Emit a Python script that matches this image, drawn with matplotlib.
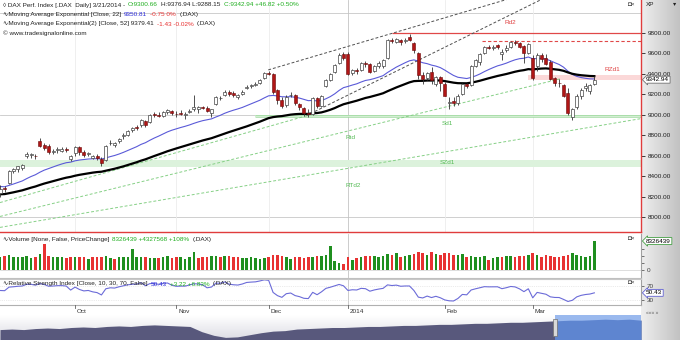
import numpy as np
import matplotlib
matplotlib.use('Agg')
import matplotlib.pyplot as plt
from matplotlib.colors import LinearSegmentedColormap
from matplotlib.patches import Rectangle

plt.rcParams['font.family'] = ['Liberation Sans', 'DejaVu Sans']

# DAX daily bars, 6 Sep 2013 .. 21 Mar 2014
opens = [
    8230, 8280, 8330, 8450, 8470, 8480, 8600, 8610, 8600, 8740, 8700, 8690, 8640, 8660, 8650, 8670, 8570,
    8630, 8680, 8640, 8615, 8575, 8600, 8570, 8560, 8720, 8700, 8740, 8790, 8800, 8850, 8880, 8900, 8940, 8930, 9010, 9000, 8990, 9030, 9040,
    9010, 9020, 9000, 9030, 9060, 9060, 9080, 9070, 9020, 9110, 9160, 9190, 9220, 9210, 9170, 9200, 9260, 9280, 9290, 9310, 9360,
    9410, 9400, 9240, 9140, 9100, 9190, 9190, 9110, 9070, 9020, 9010, 9160, 9090, 9280, 9340, 9420, 9510, 9590,
    9598, 9410, 9440, 9440, 9510, 9500, 9430, 9480, 9480, 9560, 9730, 9710, 9730, 9720, 9760, 9700, 9600, 9390, 9360, 9420, 9300, 9370,
    9300, 9120, 9130, 9120, 9200, 9300, 9290, 9480, 9520, 9600, 9660, 9650, 9680, 9590, 9630, 9660, 9710, 9700, 9670, 9600,
    9560, 9480, 9580, 9560, 9520, 9360, 9310, 9290, 9210, 8980, 9080, 9180, 9260, 9230, 9300.66]
highs = [
    8310, 8300, 8460, 8480, 8500, 8520, 8640, 8630, 8620, 8770, 8720, 8710, 8670, 8680, 8680, 8680, 8610,
    8690, 8690, 8660, 8640, 8610, 8620, 8585, 8700, 8750, 8735, 8775, 8820, 8850, 8885, 8900, 8960, 8950, 9010, 9030, 9030, 9040, 9060, 9050,
    9040, 9050, 9030, 9060, 9195, 9090, 9090, 9090, 9060, 9180, 9180, 9240, 9240, 9230, 9200, 9240, 9290, 9300, 9320, 9350, 9420,
    9430, 9410, 9250, 9170, 9190, 9220, 9200, 9120, 9080, 9060, 9170, 9170, 9190, 9350, 9410, 9500, 9600, 9610,
    9610, 9450, 9460, 9520, 9530, 9510, 9490, 9530, 9550, 9740, 9750, 9750, 9740, 9750, 9790, 9710, 9610, 9420, 9420, 9470, 9380, 9380,
    9320, 9170, 9170, 9200, 9310, 9310, 9490, 9550, 9600, 9670, 9680, 9680, 9690, 9640, 9680, 9720, 9730, 9710, 9680, 9700,
    9580, 9600, 9600, 9590, 9540, 9370, 9350, 9300, 9260, 9070, 9200, 9260, 9310, 9300, 9376.94]
lows = [
    8200, 8240, 8320, 8430, 8440, 8460, 8580, 8580, 8570, 8680, 8660, 8620, 8620, 8630, 8640, 8640, 8550,
    8600, 8610, 8590, 8600, 8570, 8560, 8500, 8550, 8700, 8680, 8720, 8760, 8790, 8830, 8850, 8880, 8880, 8920, 8980, 8980, 8980, 9010, 9000,
    8980, 9000, 8960, 9020, 9040, 9020, 9060, 9030, 8980, 9100, 9140, 9180, 9180, 9170, 9150, 9190, 9250, 9260, 9280, 9300, 9350,
    9390, 9200, 9110, 9070, 9080, 9170, 9100, 9050, 8990, 8980, 9000, 9070, 9080, 9270, 9330, 9410, 9500, 9540,
    9390, 9390, 9400, 9430, 9470, 9410, 9420, 9460, 9460, 9550, 9700, 9700, 9680, 9700, 9720, 9600, 9350, 9300, 9340, 9300, 9280, 9230,
    9180, 9060, 9090, 9100, 9190, 9260, 9280, 9470, 9490, 9590, 9640, 9630, 9640, 9540, 9610, 9650, 9680, 9650, 9510, 9590,
    9340, 9430, 9520, 9490, 9340, 9280, 9270, 9170, 9000, 8950, 9060, 9150, 9230, 9200, 9288.15]
closes = [
    8276, 8270, 8446, 8467, 8495, 8510, 8613, 8614, 8596, 8694, 8675, 8640, 8650, 8665, 8666, 8660, 8594,
    8685, 8640, 8610, 8622, 8595, 8580, 8530, 8690, 8725, 8720, 8765, 8805, 8846, 8870, 8875, 8947, 8900, 9000, 9000, 8990, 9030, 9050, 9020,
    9005, 9010, 9010, 9040, 9080, 9078, 9070, 9040, 9055, 9170, 9168, 9225, 9200, 9193, 9190, 9220, 9275, 9290, 9300, 9340, 9405,
    9400, 9225, 9140, 9084, 9172, 9190, 9114, 9078, 9017, 9006, 9164, 9085, 9181, 9336, 9400, 9488, 9589, 9552,
    9400, 9435, 9428, 9507, 9497, 9422, 9473, 9510, 9540, 9734, 9717, 9742, 9716, 9730, 9730, 9631, 9392, 9349, 9406, 9336, 9373, 9306,
    9186, 9127, 9116, 9179, 9301, 9285, 9478, 9540, 9596, 9662, 9657, 9659, 9660, 9618, 9656, 9708, 9699, 9661, 9600, 9692,
    9358, 9589, 9542, 9498, 9350, 9312, 9307, 9188, 9017, 9056, 9180, 9242, 9277, 9296.12, 9342.94]
# volume in millions of shares
volumes = [
    3.6, 3.9, 4.2, 3.6, 3.8, 3.7, 3.9, 3.5, 3.8, 4.6, 7.5, 3.9, 3.8, 3.6, 3.7, 3.5, 3.8,
    3.6, 3.7, 3.6, 3.3, 3.6, 3.7, 3.8, 4.0, 3.4, 3.2, 3.7, 3.8, 3.6, 6.0, 3.8, 3.6, 3.6, 3.5, 3.4, 3.5, 3.8, 4.1, 3.5,
    3.6, 3.8, 3.3, 3.6, 5.2, 3.4, 3.6, 3.8, 4.0, 3.9, 3.7, 3.9, 4.1, 3.7, 3.6, 3.5, 3.5, 3.6, 3.5, 3.3, 3.5,
    3.6, 4.4, 4.2, 4.0, 3.6, 3.3, 3.7, 3.8, 3.5, 3.7, 3.8, 3.9, 4.1, 4.4, 6.8, 2.6, 2.0, 1.7,
    3.6, 3.0, 3.4, 3.6, 3.9, 4.0, 4.1, 3.8, 4.0, 4.6, 4.3, 5.0, 3.6, 3.9, 4.2, 4.6, 5.2, 5.0, 4.4, 5.1, 4.5, 4.3,
    4.9, 4.8, 4.4, 4.2, 4.6, 3.6, 3.9, 3.8, 3.7, 3.9, 3.0, 3.5, 3.6, 3.8, 4.0, 3.9, 3.7, 4.1, 3.9, 4.3,
    4.9, 4.4, 3.8, 4.2, 4.1, 3.7, 3.6, 4.1, 4.3, 4.8, 4.2, 3.9, 3.8, 3.998871, 8.326439]

month_labels = ['Oct', 'Nov', 'Dec', '2014', 'Feb', 'Mar']
month_first_bar = [17, 40, 61, 79, 101, 121]

ema_fast_start, ema_slow_start = 8300, 8220
rsi_gain_start, rsi_loss_start = 40.0, 30.0

# drawn levels and trend lines (bar index, price)
rd2_level, rd2_from = 9800, 89
rd_dash_level, rd_dash_from = 9720, 109.5
rzd1_zone, rzd1_from = (9340, 9390), 120
sd1_zone, sd1_from = (8975, 9000), 58
szd1_zone = (8490, 8560)
dark_lines = [[(60.9, 9439), (118, 10165)], [(69.5, 8990), (124, 10150)]]
green_lines = [[(-0.05, 8141), (70.4, 9000)], [(-0.05, 8005), (127.2, 9351)], [(-0.05, 7898), (145.4, 8961)]]

# overview strip at the bottom (relative level)
nav_values = [10, 10.5, 10, 11, 11.5, 11, 12, 12.5, 12, 13, 13.5, 13, 14, 14.5, 14, 13.5, 13, 8, 4.5, 2.5, 3,
              5, 7, 8.5, 9, 10.5, 11, 11.5, 12, 12, 12.5, 13, 13, 13.5, 14, 14, 14.5, 15, 15, 15.5, 16, 16, 16.5,
              17, 17, 17.5, 18, 18.5, 19, 19, 19.5, 20, 19.5, 20, 19]

W, H = 680, 340
fig = plt.figure(figsize=(6.8, 3.4), dpi=100)
fig.patch.set_facecolor('white')
FS = 4.6


def panel(x0, y0, x1, y1):
    return fig.add_axes([x0 / W, 1 - y1 / H, (x1 - x0) / W, (y1 - y0) / H])


# scale column on the right
side = panel(641, 0, 680, 340)
side.imshow(np.linspace(0, 1, 64)[None, :], aspect='auto', extent=[0, 1, 0, 1],
            cmap=LinearSegmentedColormap.from_list('g', ['#eeeeee', '#c2c2c2']))
side.axis('off')

n = len(closes)
x = np.arange(n)
XL = (-0.05, 145.6)

# ---------- price panel ----------
ax = panel(0, 0, 641, 232)
ax.set_xlim(*XL)
ax.set_ylim(7853, 10123)
for lv in (8000, 9000, 10000):
    ax.axhline(lv, color='#c8c8c8', lw=0.6, zorder=0)
for i in month_first_bar:
    ax.axvline(i, color='#c4c4c4' if i == 79 else '#ededed', lw=0.6, zorder=0)

ax.axhspan(*szd1_zone, color='#dcf2dc', lw=0, zorder=0.5)
ax.fill_between([sd1_from, XL[1]], *sd1_zone, color='#d2eed2', lw=0, zorder=0.5)
ax.hlines(sd1_zone, sd1_from, XL[1], color='#9bd89b', lw=0.5, zorder=0.6)
ax.fill_between([rzd1_from, XL[1]], *rzd1_zone, color='#fbd8d8', lw=0, zorder=0.5)
ax.hlines(rd2_level, rd2_from, XL[1], color='#e04848', lw=0.9, zorder=1)
ax.hlines(rd_dash_level, rd_dash_from, XL[1], color='#e04848', lw=0.8, linestyles=(0, (3, 2)), zorder=1)

for (x0, y0), (x1, y1) in dark_lines:
    ax.plot([x0, x1], [y0, y1], color='#505050', lw=0.7, dashes=(3, 2), zorder=1)
for (x0, y0), (x1, y1) in green_lines:
    ax.plot([x0, x1], [y0, y1], color='#86d086', lw=0.7, dashes=(3, 2), zorder=1)


def ema(vals, span, start):
    a = 2 / (span + 1)
    out, e = [], start
    for v in vals:
        e += a * (v - e)
        out.append(e)
    return out


ax.plot(x, ema(closes, 22, ema_fast_start), color='#5a5ad8', lw=0.8, zorder=2)
ax.plot(x, ema(closes, 52, ema_slow_start), color='black', lw=1.6, zorder=2)

o = np.array(opens); c = np.array(closes)
up = c >= o
ax.vlines(x, lows, highs, color='#333333', lw=0.6, zorder=3)
body_h = np.maximum(np.abs(c - o), 4)
body_b = np.minimum(o, c)
ax.bar(x[up], body_h[up], bottom=body_b[up], width=0.68, color='white', edgecolor='#454545', lw=0.5, zorder=4)
ax.bar(x[~up], body_h[~up], bottom=body_b[~up], width=0.68, color='#b01616', edgecolor='#6a0808', lw=0.4, zorder=4)

red_t, green_t = '#e04040', '#55bb55'
ax.text(115.9, 9907, 'Rd2', color=red_t, fontsize=FS, ha='center', va='center')
ax.text(139, 9439, 'RZd1', color=red_t, fontsize=FS, ha='center', va='center')
ax.text(101.5, 8912, 'Sd1', color=green_t, fontsize=FS, ha='center', va='center')
ax.text(101.5, 8532, 'SZd1', color=green_t, fontsize=FS, ha='center', va='center')
ax.text(79.7, 8776, 'Rtd', color=green_t, fontsize=FS, ha='center', va='center')
ax.text(80.2, 8307, 'RTd2', color=green_t, fontsize=FS, ha='center', va='center')

ax.yaxis.tick_right()
ax.set_yticks(np.arange(8000, 9801, 200))
ax.set_yticklabels([f'{v:.2f}' for v in np.arange(8000, 9801, 200)])
ax.tick_params(axis='y', length=3, width=0.6, pad=1.5, labelsize=FS, colors='#202020')
ax.tick_params(axis='x', bottom=False, labelbottom=False)
for s in ('left', 'top'):
    ax.spines[s].set_visible(False)
for s in ('right', 'bottom'):
    ax.spines[s].set_color('#e03c3c')
    ax.spines[s].set_linewidth(1.0)
ax.text(1.008, closes[-1], f'{closes[-1]:.2f}', transform=ax.get_yaxis_transform(), fontsize=FS,
        va='center', ha='left', clip_on=False, zorder=6,
        bbox=dict(boxstyle='larrow,pad=0.15', fc='white', ec='#707070', lw=0.6))

# ---------- volume panel ----------
axv = panel(0, 234, 641, 278)
axv.set_xlim(*XL)
axv.set_ylim(-2.3, 10.34)
vcol = ['#1f8f1f' if i == 0 or closes[i] >= closes[i - 1] else '#e83232' for i in range(n)]
axv.bar(x, volumes, width=0.58, color=vcol, lw=0)
axv.axvline(79, color='#c4c4c4', lw=0.6, zorder=0)
axv.axhline(0, color='#d0d0d0', lw=0.5, zorder=0)
axv.yaxis.tick_right()
axv.set_yticks([0, 2, 4, 6])
axv.set_yticklabels(['0', '', '', ''])
axv.tick_params(axis='y', length=2.5, width=0.5, pad=1.5, labelsize=FS, colors='#404040')
axv.tick_params(axis='x', bottom=False, labelbottom=False)
for s in ('left', 'top'):
    axv.spines[s].set_visible(False)
axv.spines['right'].set_color('#a0a0a0')
axv.spines['bottom'].set_color('#c0c0c0')
axv.text(1.008, volumes[-1], f'{volumes[-1] * 1e6:.0f}', transform=axv.get_yaxis_transform(), fontsize=FS,
         va='center', ha='left', clip_on=False,
         bbox=dict(boxstyle='larrow,pad=0.15', fc='white', ec='#46a046', lw=0.6))

# ---------- RSI panel ----------
g, l = rsi_gain_start, rsi_loss_start
rsi = [100 * g / (g + l)]
for i in range(1, n):
    d = closes[i] - closes[i - 1]
    g = (g * 9 + max(d, 0)) / 10
    l = (l * 9 + max(-d, 0)) / 10
    rsi.append(100 * g / (g + l))

axr = panel(0, 279, 641, 305)
axr.set_xlim(*XL)
axr.set_ylim(15.7, 90)
axr.axhline(70, color='#d8d8d8', lw=0.5, ls=':')
axr.axhline(30, color='#d8d8d8', lw=0.5, ls=':')
axr.axvline(79, color='#c4c4c4', lw=0.6, zorder=0)
axr.plot(x, rsi, color='#6b6bd8', lw=0.8)
axr.yaxis.tick_right()
axr.set_yticks([30, 70])
axr.tick_params(axis='y', length=2.5, width=0.5, pad=1.5, labelsize=FS, colors='#404040')
axr.tick_params(axis='x', bottom=False, labelbottom=False)
axr.spines['left'].set_visible(False)
axr.spines['right'].set_color('#a0a0a0')
axr.spines['bottom'].set_color('#b0b0b0')
axr.spines['top'].set_color('#c8c8c8')
axr.text(1.008, 50.43, '50.43', transform=axr.get_yaxis_transform(), fontsize=FS,
         va='center', ha='left', clip_on=False,
         bbox=dict(boxstyle='larrow,pad=0.15', fc='white', ec='#6060d0', lw=0.6))

# ---------- date strip ----------
axd = panel(0, 305, 641, 315)
axd.set_xlim(*XL)
axd.set_ylim(0, 1)
axd.axis('off')
for i, lab in zip(month_first_bar, month_labels):
    axd.plot([i, i], [0.72, 1], color='#606060', lw=0.6)
    axd.text(i + 0.5, 0.35, lab, fontsize=FS, color='#303030', ha='left', va='center')

# ---------- overview strip ----------
axn = panel(0, 315, 641, 340)
axn.set_xlim(0, 1)
axn.set_ylim(0, 24)
axn.imshow(np.linspace(0, 1, 32)[:, None], aspect='auto', extent=[0, 1, 0, 24], zorder=0,
           cmap=LinearSegmentedColormap.from_list('n', ['#ffffff', '#dcdce4']))
xs = np.linspace(0, 1, len(nav_values))
axn.fill_between(xs, 0, nav_values, color='#58587c', lw=0, zorder=1)
hl = 555 / 641
axn.axvspan(hl, 1, color='#9ab9ee', lw=0, zorder=2)
clip = Rectangle((hl, 0), 1 - hl, 24, transform=axn.transData)
area = axn.fill_between(xs, 0, nav_values, color='#5e85d0', lw=0, zorder=3)
area.set_clip_path(clip)
axn.add_patch(Rectangle((hl - 0.003, 4), 0.006, 16, fc='#d8d8d8', ec='#707070', lw=0.5, zorder=4))
axn.axis('off')


# ---------- header texts: coloured pieces chained one after another ----------
def header(y, parts, x=3):
    prev = fig.text(x / W, 1 - y / H, parts[0][0], color=parts[0][1], fontsize=FS, ha='left', va='center')
    for s, col in parts[1:]:
        prev = fig.add_artist(plt.Annotation(s, xy=(1, 0.5), xycoords=prev, xytext=(2.2, 0),
                                             textcoords='offset points', color=col, fontsize=FS,
                                             ha='left', va='center'))


GR, BL, RD, K = '#1fae1f', '#2a2ad8', '#e83030', '#202020'
header(5, [('\u25ca DAX Perf. Index [.DAX  Daily] 3/21/2014 -', K), ('O:9300.66', GR),
           ('H:9376.94 L:9288.15', K), ('C:9342.94 +46.82 +0.50%', GR)])
header(14.5, [('\u223fMoving Average Exponential [Close, 22]', K), ('9350.81', BL), ('-0.75 0%', RD), ('(.DAX)', K)])
header(24, [('\u223fMoving Average Exponential(2) [Close, 52] 9379.41', K), ('-1.43 -0.02%', RD), ('(.DAX)', K)])
header(33.5, [('\u00a9 www.tradesignalonline.com', K)])
header(239.5, [('\u223fVolume [None, False, PriceChange]', K), ('8326439 +4327568 +108%', GR), ('(.DAX)', K)])
header(284, [('\u223fRelative Strength Index [Close, 10, 30, 70, False]', K), ('50.43', BL),
             ('+3.22 +6.83%', GR), ('(.DAX)', K)])

for yy in (4, 239, 283):
    fig.text(628 / W, 1 - yy / H, '\u25d8\u00d7', fontsize=FS, color='#404040', ha='left', va='center')
fig.text(646 / W, 1 - 4 / H, 'XP', fontsize=FS, color='#202020', ha='left', va='center')
fig.text(675 / W, 1 - 4 / H, '\u25be', fontsize=FS, color='#202020', ha='center', va='center')
fig.text(646 / W, 1 - 312 / H, '\u00ab\u00ab\u00ab \u00bb', fontsize=3.5, color='#606060', ha='left', va='center')

fig.savefig('out.png', dpi=100)
plt.close()
